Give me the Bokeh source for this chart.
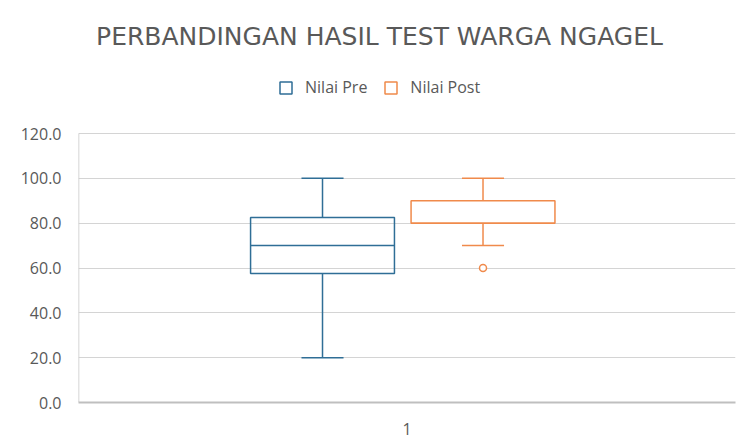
from bokeh.plotting import figure
from bokeh.models import (Range1d, FixedTicker, Legend, LegendItem, Label,
                          PrintfTickFormatter, ColumnDataSource)
from bokeh.embed import file_html
from bokeh.resources import INLINE

# ---- data ----
series = ["Nilai Pre", "Nilai Post"]
category = [1, 1]
lower_whisker = [20, 70]
q1 = [57.5, 80]
median = [70, 80]
q3 = [82.5, 90]
upper_whisker = [100, 100]
outlier_series = ["Nilai Post"]
outlier_values = [60]
y_ticks = [0, 20, 40, 60, 80, 100, 120]
x_tick_labels = {1: "1"}
title_text = "PERBANDINGAN HASIL TEST WARGA NGAGEL"

# ---- style / layout ----
colors = ["#2F6E96", "#F08A4B"]
offsets = [-0.1286, 0.1157]
box_w = 0.219
cap_w = 0.064
text_color = "#595959"
W, H = 737, 441
frame_left, frame_bottom_px = 78, 402      # pixel position of the value axis
axis_top_px = 133                          # pixel position of the 120 gridline
title_center_px = (379, 36)                # chart-area centre of the title
y_max = y_ticks[-1]
px_per_unit = (frame_bottom_px - axis_top_px) / y_max
y_view_top = frame_bottom_px / px_per_unit  # frame extends to the top of the figure

p = figure(width=W, height=H, output_backend="svg", toolbar_location=None,
           x_range=Range1d(0.5, 1.5), y_range=Range1d(0, y_view_top),
           min_border_left=frame_left, min_border_right=2, min_border_top=0,
           min_border_bottom=H - frame_bottom_px, title=None)
p.outline_line_color = None
p.xgrid.grid_line_color = None
p.ygrid.grid_line_color = "#D4D4D4"
p.ygrid.grid_line_width = 1

p.yaxis.ticker = FixedTicker(ticks=y_ticks)
p.yaxis.formatter = PrintfTickFormatter(format="%.1f")
p.yaxis.major_tick_line_color = None
p.yaxis.minor_tick_line_color = None
p.yaxis.axis_line_color = None
p.yaxis.major_label_text_font = "Open Sans"
p.yaxis.major_label_text_font_size = "16px"
p.yaxis.major_label_text_color = text_color
p.yaxis.major_label_standoff = 11

p.xaxis.ticker = FixedTicker(ticks=list(x_tick_labels.keys()))
p.xaxis.major_label_overrides = x_tick_labels
p.xaxis.major_tick_line_color = None
p.xaxis.minor_tick_line_color = None
p.xaxis.axis_line_color = "#BFBFBF"
p.xaxis.axis_line_width = 2
p.xaxis.major_label_text_font = "Open Sans"
p.xaxis.major_label_text_font_size = "16px"
p.xaxis.major_label_text_color = text_color
p.xaxis.major_label_standoff = 14

# value-axis line only over the tick span
p.segment(x0=[p.x_range.start], y0=[y_ticks[0]], x1=[p.x_range.start], y1=[y_max],
          line_color="#C8C8C8", line_width=1.5)

items = []
for i, name in enumerate(series):
    cx = category[i] + offsets[i]
    src = ColumnDataSource(dict(
        left=[cx - box_w / 2], right=[cx + box_w / 2], top=[q3[i]], bottom=[q1[i]],
        x=[cx], lw=[lower_whisker[i]], uw=[upper_whisker[i]], q1=[q1[i]], q3=[q3[i]],
        med=[median[i]], cl=[cx - cap_w / 2], cr=[cx + cap_w / 2],
        ml=[cx - box_w / 2], mr=[cx + box_w / 2]))
    c = colors[i]
    p.segment(x0="x", y0="q3", x1="x", y1="uw", source=src, line_color=c, line_width=1.5)
    p.segment(x0="x", y0="lw", x1="x", y1="q1", source=src, line_color=c, line_width=1.5)
    p.segment(x0="cl", y0="uw", x1="cr", y1="uw", source=src, line_color=c, line_width=1.5)
    p.segment(x0="cl", y0="lw", x1="cr", y1="lw", source=src, line_color=c, line_width=1.5)
    box = p.quad(left="left", right="right", top="top", bottom="bottom", source=src,
                 fill_color="white", fill_alpha=0, line_color=c, line_width=1.5)
    p.segment(x0="ml", y0="med", x1="mr", y1="med", source=src, line_color=c, line_width=1.5)
    items.append(LegendItem(label=name, renderers=[box]))

for s, v in zip(outlier_series, outlier_values):
    i = series.index(s)
    cx = category[i] + offsets[i]
    p.scatter(x=[cx], y=[v], marker="circle", size=7, fill_color="white",
              line_color=colors[i], line_width=1.5)

legend = Legend(items=items, orientation="horizontal", location=(195, 299),
                margin=0, padding=5, border_line_alpha=0, background_fill_alpha=0,
                glyph_width=15, glyph_height=15, label_standoff=12, spacing=16,
                label_text_font="Open Sans", label_text_font_size="16px",
                label_text_color=text_color)
p.add_layout(legend, "center")

frame_w = W - frame_left - 2
title_x = p.x_range.start + (title_center_px[0] - frame_left) / frame_w * (p.x_range.end - p.x_range.start)
title_y = (frame_bottom_px - title_center_px[1]) / px_per_unit
p.add_layout(Label(x=title_x, y=title_y, text=title_text,
                   text_align="center", text_baseline="middle",
                   text_font="DejaVu Sans", text_font_size="25px",
                   text_color=text_color))

open("out.html", "w").write(file_html(p, INLINE))
